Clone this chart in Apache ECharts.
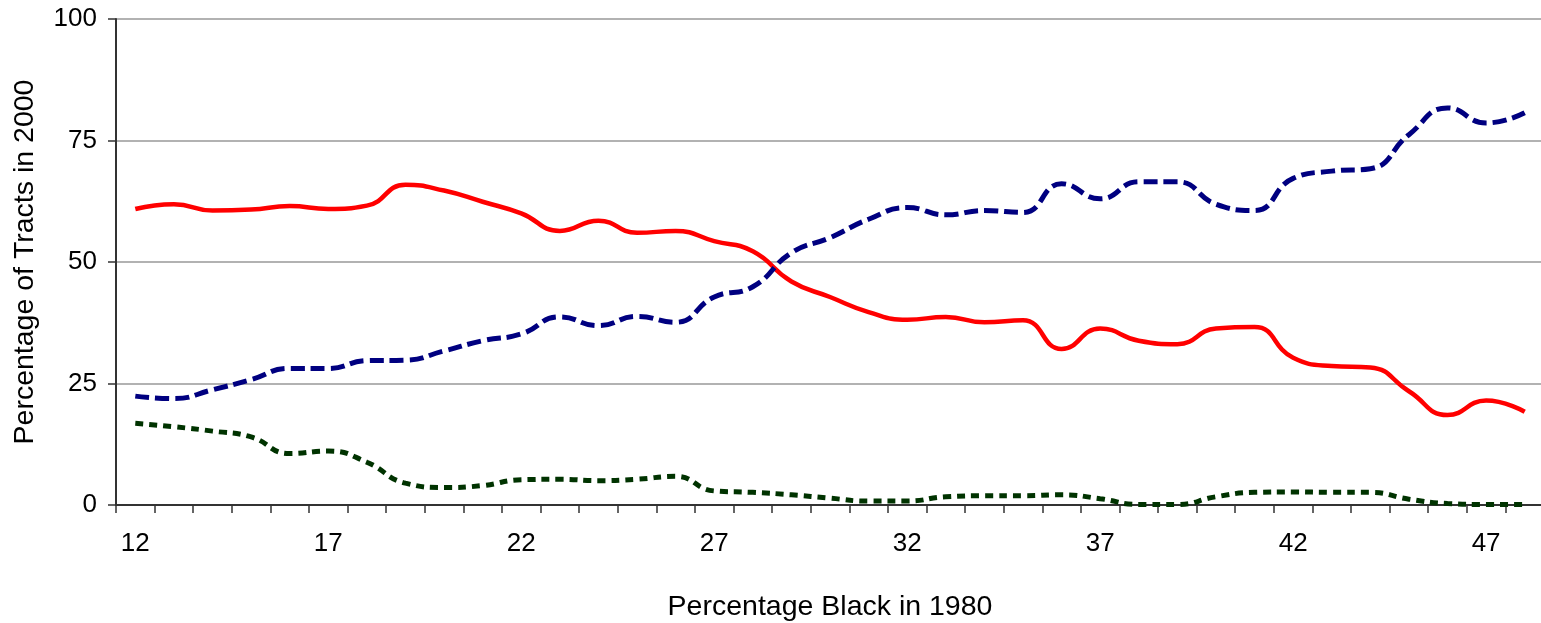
<!DOCTYPE html>
<html>
<head>
<meta charset="utf-8">
<script src="https://cdn.jsdelivr.net/npm/echarts@6/dist/echarts.min.js"></script>
<style>
html,body{margin:0;padding:0;background:#fff;}
#chart{width:1541px;height:623px;}
</style>
</head>
<body>
<div id="chart"></div>
<script>
// Categories: Percentage Black in 1980
const categories = [];
for (let v = 12; v <= 48; v++) categories.push(String(v));

const redSeries = [60.9, 61.9, 60.6, 60.8, 61.5, 60.9, 61.6, 65.9, 64.7, 62.4, 60.0,
  56.4, 58.5, 56.0, 56.4, 54.3, 52.2, 46.0, 42.8, 39.7, 38.1, 38.7, 37.6,
  38.0, 32.1, 36.3, 33.8, 33.1, 36.3, 36.6, 30.3, 28.6, 28.3, 23.4, 18.5, 21.5, 19.2];

const blueSeries = [22.4, 21.9, 23.7, 25.8, 28.1, 28.1, 29.7, 29.8, 31.7, 33.8, 35.2,
  38.7, 36.9, 38.8, 37.6, 42.8, 44.9, 51.9, 55.0, 58.8, 61.2, 59.7, 60.6,
  60.2, 66.1, 63.0, 66.5, 66.5, 61.9, 60.6, 67.2, 68.7, 69.2, 76.2, 81.7, 78.6, 80.7];

const greenSeries = [16.8, 16.1, 15.2, 14.0, 10.6, 11.1, 8.8, 4.5, 3.6, 4.0, 5.2,
  5.3, 5.0, 5.3, 5.9, 2.9, 2.6, 2.1, 1.4, 0.8, 0.8, 1.7, 1.9,
  1.9, 2.1, 1.3, 0.1, 0.1, 1.7, 2.6, 2.7, 2.6, 2.6, 1.2, 0.3, 0.1, 0.1];

const yTicks = [0, 25, 50, 75, 100];

const chart = echarts.init(document.getElementById('chart'), null, {renderer: 'canvas'});
const font = "Liberation Sans, Arial, sans-serif";
chart.setOption({
  animation: false,
  backgroundColor: '#ffffff',
  grid: {left: 116, right: -3, top: 19, bottom: 118, containLabel: false, outerBoundsMode: 'none'},
  xAxis: {
    type: 'category',
    data: categories,
    boundaryGap: true,
    name: 'Percentage Black in 1980',
    nameLocation: 'middle',
    nameGap: 88,
    nameTextStyle: {fontFamily: font, fontSize: 28.5, color: '#000'},
    axisLine: {show: true, lineStyle: {color: '#333', width: 2}},
    axisTick: {show: true, interval: 0, length: 8, lineStyle: {color: '#333', width: 1.5}},
    axisLabel: {interval: 4, margin: 26, fontFamily: font, fontSize: 26, color: '#000'},
    splitLine: {show: false}
  },
  yAxis: {
    type: 'value',
    min: yTicks[0],
    max: yTicks[yTicks.length - 1],
    interval: 25,
    name: 'Percentage of Tracts in 2000',
    nameLocation: 'middle',
    nameGap: 76,
    nameTextStyle: {fontFamily: font, fontSize: 28.5, color: '#000'},
    axisLine: {show: true, lineStyle: {color: '#333', width: 2}},
    axisTick: {show: true, length: 8, lineStyle: {color: '#333', width: 1.5}},
    axisLabel: {margin: 19, fontFamily: font, fontSize: 26, color: '#000'},
    splitLine: {show: true, lineStyle: {color: '#999', width: 1.5}}
  },
  series: [
    {
      type: 'line', data: redSeries, smooth: true, symbol: 'none',
      lineStyle: {color: '#ff0000', width: 4.5, type: 'solid'}
    },
    {
      type: 'line', data: blueSeries, smooth: true, symbol: 'none',
      lineStyle: {color: '#000080', width: 5, type: [14, 6]}
    },
    {
      type: 'line', data: greenSeries, smooth: true, symbol: 'none',
      lineStyle: {color: '#003300', width: 5, type: [8, 6]}
    }
  ]
});
</script>
</body>
</html>
